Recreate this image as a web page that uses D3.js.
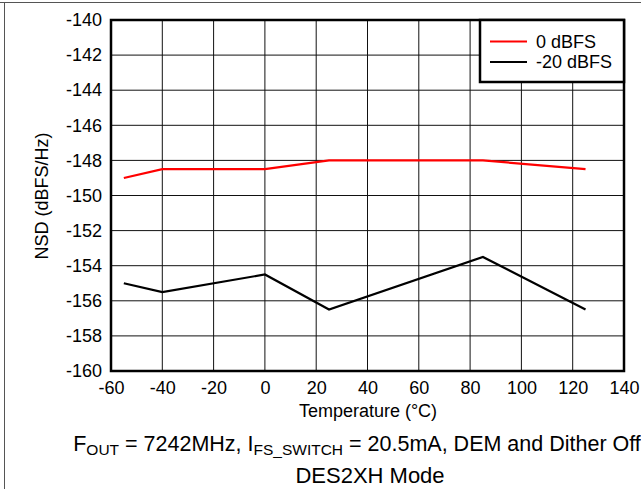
<!DOCTYPE html>
<html><head><meta charset="utf-8">
<script src="https://cdn.jsdelivr.net/npm/d3@7"></script>
<style>body{margin:0;background:#fff}svg{display:block;font-family:"Liberation Sans",Arial,sans-serif}</style>
</head><body><svg id="c" width="641" height="489"></svg>
<script>
const temps = [-55, -40, 0, 25, 85, 125];
const nsd0 = [-149, -148.5, -148.5, -148, -148, -148.5];
const nsd20 = [-155, -155.5, -154.5, -156.5, -153.5, -156.5];
const seriesNames = ["0 dBFS", "-20 dBFS"];
const seriesColors = ["#ff0000", "#000000"];
const xTicks = [-60,-40,-20,0,20,40,60,80,100,120,140];
const yTicks = [-140,-142,-144,-146,-148,-150,-152,-154,-156,-158,-160];

const svg = d3.select("#c");
const L=111, R=624, T=20, B=371;
const x = d3.scaleLinear().domain([-60,140]).range([L,R]);
const y = d3.scaleLinear().domain([-160,-140]).range([B,T]);

// outer frame
svg.append("line").attr("x1",0).attr("x2",641).attr("y1",2.5).attr("y2",2.5).attr("stroke","#555").attr("stroke-width",1);
svg.append("line").attr("x1",4.5).attr("x2",4.5).attr("y1",2).attr("y2",489).attr("stroke","#555").attr("stroke-width",1);

// grid
svg.append("g").selectAll("line").data(xTicks).join("line")
  .attr("x1",d=>x(d)).attr("x2",d=>x(d)).attr("y1",T).attr("y2",B)
  .attr("stroke","#111").attr("stroke-width",1);
svg.append("g").selectAll("line").data(yTicks).join("line")
  .attr("x1",L).attr("x2",R).attr("y1",d=>y(d)).attr("y2",d=>y(d))
  .attr("stroke","#111").attr("stroke-width",1);

// axes labels
const xa = svg.append("g").attr("transform",`translate(0,${B})`)
  .call(d3.axisBottom(x).tickValues(xTicks).tickSize(0).tickPadding(10).tickFormat(d=>d));
const ya = svg.append("g").attr("transform",`translate(${L},0)`)
  .call(d3.axisLeft(y).tickValues(yTicks).tickSize(0).tickPadding(9).tickFormat(d=>d));
[xa,ya].forEach(a=>{a.select(".domain").remove();a.selectAll("text").attr("font-size",18).attr("fill","#000").attr("font-family","Liberation Sans, Arial, sans-serif");});

// lines
const line = d3.line().x((d,i)=>x(temps[i])).y(d=>y(d));
[nsd0,nsd20].forEach((s,k)=>{
  svg.append("path").attr("d",line(s)).attr("fill","none").attr("stroke",seriesColors[k]).attr("stroke-width",2.2);
});

// plot border
svg.append("rect").attr("x",L).attr("y",T).attr("width",R-L).attr("height",B-T)
  .attr("fill","none").attr("stroke","#000").attr("stroke-width",2.5);

// legend
const lg = svg.append("g");
lg.append("rect").attr("x",480).attr("y",T).attr("width",R-480).attr("height",62)
  .attr("fill","#fff").attr("stroke","#000").attr("stroke-width",2.5);
seriesNames.forEach((n,k)=>{
  const yy = 41.5 + k*20.5;
  lg.append("line").attr("x1",490).attr("x2",527).attr("y1",yy).attr("y2",yy).attr("stroke",seriesColors[k]).attr("stroke-width",2.2);
  lg.append("text").attr("x",536).attr("y",yy+6).attr("font-size",18).text(n);
});

// axis titles
svg.append("text").attr("x",368).attr("y",417).attr("text-anchor","middle").attr("font-size",18).text("Temperature (°C)");
svg.append("text").attr("transform","translate(48,196) rotate(-90)").attr("text-anchor","middle").attr("font-size",18).text("NSD (dBFS/Hz)");

// caption
const cap = svg.append("text").attr("x",357).attr("y",451).attr("text-anchor","middle").attr("font-size",21.5);
cap.append("tspan").text("F");
cap.append("tspan").attr("font-size",15.5).attr("dy",4).text("OUT");
cap.append("tspan").attr("dy",-4).text(" = 7242MHz, I");
cap.append("tspan").attr("font-size",15.5).attr("dy",4).text("FS_SWITCH");
cap.append("tspan").attr("dy",-4).text(" = 20.5mA, DEM and Dither Off");
svg.append("text").attr("x",370).attr("y",483).attr("text-anchor","middle").attr("font-size",22).text("DES2XH Mode");
</script></body></html>
